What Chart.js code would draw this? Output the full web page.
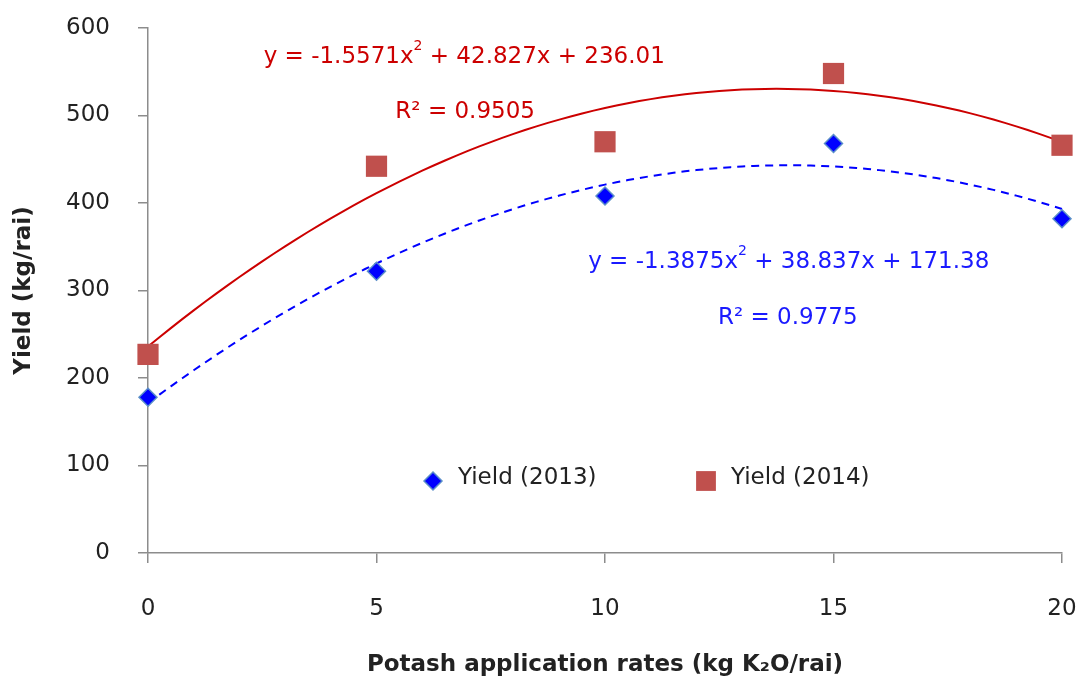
<!DOCTYPE html>
<html>
<head>
<meta charset="utf-8">
<script src="https://cdn.jsdelivr.net/npm/chart.js"></script>
<style>
  html, body { margin: 0; padding: 0; background: #fff; }
  #wrap { width: 1085px; height: 688px; }
</style>
</head>
<body>
<div id="wrap"><canvas id="yieldChart"></canvas></div>
<script>
// values
var rates = [0, 5, 10, 15, 20];
var yield2013 = [178, 322, 408, 468, 382];
var yield2014 = [227, 442, 470, 548, 466];
// polynomial trendline coefficients as printed on the chart (a, b, c for ax^2 + bx + c)
var fit2013 = [-1.3875, 38.837, 171.38];
var fit2014 = [-1.5571, 42.827, 236.01];
var r2_2013 = '0.9775';
var r2_2014 = '0.9505';
var seriesNames = ['Yield (2013)', 'Yield (2014)'];

var FONT = "'DejaVu Sans', sans-serif";
var FS = 23;

function toPoints(xs, ys) {
    return xs.map(function (x, i) { return { x: x, y: ys[i] }; });
}
// trendline drawn from the printed equation
function trendPoints(c) {
    var pts = [];
    for (var x = rates[0]; x <= rates[rates.length - 1] + 1e-9; x += 0.25) {
        pts.push({ x: x, y: c[0] * x * x + c[1] * x + c[2] });
    }
    return pts;
}
function fmt(n) { return String(Math.abs(n)); }

// equation text with a superscript 2
function drawEquation(ctx, c, cx, cy, color) {
    var p1 = 'y = ' + (c[0] < 0 ? '-' : '') + fmt(c[0]) + 'x';
    var sup = '2';
    var p2 = ' + ' + fmt(c[1]) + 'x + ' + fmt(c[2]);
    ctx.font = FS + 'px ' + FONT;
    var w1 = ctx.measureText(p1).width;
    var w3 = ctx.measureText(p2).width;
    ctx.font = '14px ' + FONT;
    var w2 = ctx.measureText(sup).width;
    var x0 = cx - (w1 + w2 + w3) / 2;
    ctx.fillStyle = color;
    ctx.textBaseline = 'middle';
    ctx.textAlign = 'left';
    ctx.font = FS + 'px ' + FONT;
    ctx.fillText(p1, x0, cy);
    ctx.font = '14px ' + FONT;
    ctx.fillText(sup, x0 + w1, cy - 11);
    ctx.font = FS + 'px ' + FONT;
    ctx.fillText(p2, x0 + w1 + w2, cy);
}

var annotations = {
    id: 'annotations',
    afterDatasetsDraw: function (chart) {
        var ctx = chart.ctx;
        var xs = chart.scales.x, ys = chart.scales.y;
        ctx.save();
        drawEquation(ctx, fit2014, xs.getPixelForValue(6.92), ys.getPixelForValue(567), '#cc0000');
        drawEquation(ctx, fit2013, xs.getPixelForValue(14.02), ys.getPixelForValue(332), '#1a1aff');
        ctx.font = FS + 'px ' + FONT;
        ctx.textAlign = 'center';
        ctx.textBaseline = 'middle';
        ctx.fillStyle = '#cc0000';
        ctx.fillText('R\u00b2 = ' + r2_2014, xs.getPixelForValue(6.94), ys.getPixelForValue(504));
        ctx.fillStyle = '#1a1aff';
        ctx.fillText('R\u00b2 = ' + r2_2013, xs.getPixelForValue(14.0), ys.getPixelForValue(269));

        // legend inside the plot
        var area = chart.chartArea;
        var ly = area.bottom - 72;
        var items = [
            { ds: chart.data.datasets[0], x: area.left + 285 },
            { ds: chart.data.datasets[1], x: area.left + 558 }
        ];
        items.forEach(function (it) {
            ctx.fillStyle = it.ds.backgroundColor;
            ctx.strokeStyle = it.ds.borderColor;
            ctx.lineWidth = it.ds.borderWidth;
            Chart.helpers.drawPoint(ctx, {
                pointStyle: it.ds.pointStyle,
                radius: it.ds === chart.data.datasets[1] ? 14 : it.ds.pointRadius,
                borderWidth: it.ds.borderWidth
            }, it.x, ly);
            ctx.fillStyle = '#222';
            ctx.textAlign = 'left';
            ctx.font = FS + 'px ' + FONT;
            ctx.fillText(it.ds.label, it.x + 25, ly - 3);
        });
        ctx.restore();
    }
};

window.addEventListener('load', function () {
    var ctx = document.getElementById('yieldChart').getContext('2d');
    new Chart(ctx, {
        type: 'scatter',
        data: {
            datasets: [{
                label: seriesNames[0],
                data: toPoints(rates, yield2013),
                pointStyle: 'rectRot',
                pointRadius: 9,
                backgroundColor: '#0000ff',
                borderColor: '#5b8fc9',
                borderWidth: 1.5,
                clip: false,
                order: 0
            }, {
                label: seriesNames[1],
                data: toPoints(rates, yield2014),
                pointStyle: 'rect',
                pointRadius: 15,
                backgroundColor: '#c0504d',
                borderColor: '#c0504d',
                borderWidth: 0,
                clip: false,
                order: 0
            }, {
                label: 'Poly. (2013)',
                data: trendPoints(fit2013),
                showLine: true,
                pointRadius: 0,
                borderColor: '#0000ff',
                borderWidth: 2,
                borderDash: [8, 6],
                tension: 0,
                clip: false,
                order: 1
            }, {
                label: 'Poly. (2014)',
                data: trendPoints(fit2014),
                showLine: true,
                pointRadius: 0,
                borderColor: '#cc0000',
                borderWidth: 2,
                tension: 0,
                clip: false,
                order: 1
            }]
        },
        options: {
            responsive: true,
            maintainAspectRatio: false,
            animation: false,
            layout: { padding: { top: 28, right: 23, left: 0, bottom: 0 } },
            plugins: {
                legend: { display: false },
                tooltip: { enabled: false }
            },
            scales: {
                x: {
                    type: 'linear',
                    min: 0,
                    max: 20,
                    ticks: { stepSize: 5, color: '#222', font: { family: FONT, size: FS }, padding: 32 },
                    grid: { drawOnChartArea: false, drawTicks: true, tickLength: 10, color: '#8c8c8c', lineWidth: 1.5 },
                    border: { color: '#8c8c8c', width: 1.5 },
                    title: {
                        display: true,
                        text: 'Potash application rates (kg K\u2082O/rai)',
                        color: '#222',
                        font: { family: FONT, size: 23, weight: 'bold' },
                        padding: { top: 4, bottom: 9 }
                    },
                    afterFit: function (scale) {
                        scale.height = 135;
                        scale.paddingLeft = 0;
                        scale.paddingRight = 0;
                    }
                },
                y: {
                    min: 0,
                    max: 600,
                    ticks: { stepSize: 100, color: '#222', font: { family: FONT, size: FS }, padding: 28 },
                    grid: { drawOnChartArea: false, drawTicks: true, tickLength: 10, color: '#8c8c8c', lineWidth: 1.5 },
                    border: { color: '#8c8c8c', width: 1.5 },
                    title: {
                        display: true,
                        text: 'Yield (kg/rai)',
                        color: '#222',
                        font: { family: FONT, size: 23, weight: 'bold' },
                        padding: { top: 10, bottom: 4 }
                    },
                    afterFit: function (scale) {
                        scale.width = 148;
                        scale.paddingTop = 0;
                        scale.paddingBottom = 0;
                    }
                }
            }
        },
        plugins: [annotations]
    });
});
</script>
</body>
</html>
